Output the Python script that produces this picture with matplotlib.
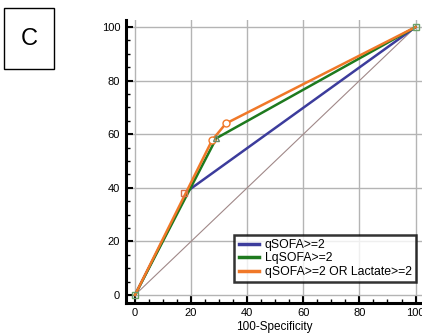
import matplotlib
matplotlib.use("Agg")
import matplotlib.pyplot as plt
from matplotlib.ticker import MultipleLocator
from matplotlib.patches import Rectangle

plt.rcParams["font.family"] = ["Liberation Sans", "DejaVu Sans"]

# ROC punktlari (100-Specificity, Sensitivity)
qsofa_x = [0, 19, 100]
qsofa_y = [0, 39, 100]
lqsofa_x = [0, 29, 100]
lqsofa_y = [0, 58.5, 100]
combo_x = [0, 27.5, 32.4, 100]
combo_y = [0, 57.8, 64, 100]
labels = ["qSOFA>=2", "LqSOFA>=2", "qSOFA>=2 OR Lactate>=2"]
ticks = [0, 20, 40, 60, 80, 100]

fig = plt.figure(figsize=(4.22, 3.35), dpi=100)
ax = fig.add_axes([0.298, 0.0964, 0.702, 0.8436])

# Diagonal referans cizgisi
ax.plot([0, 100], [0, 100], color="#a08888", lw=0.8, zorder=2)

ax.plot(qsofa_x, qsofa_y, color="#3c3c9c", lw=1.8, label=labels[0], zorder=3)
ax.plot(lqsofa_x, lqsofa_y, color="#1e7a1e", lw=1.8, label=labels[1], zorder=3)
ax.plot(combo_x, combo_y, color="#f07828", lw=1.8, label=labels[2], zorder=4)

# Isaretler
ax.plot([17.5], [38], marker="s", ms=4, mfc="none", mec="#d9704a", mew=1, ls="none", zorder=5)
ax.plot(combo_x[1:3], combo_y[1:3], marker="o", ms=5, mfc="white", mec="#f07828", mew=1, ls="none", zorder=5)
ax.plot([29], [58.5], marker="^", ms=4, mfc="none", mec="#6a8a6a", mew=1, ls="none", zorder=5)
ax.plot([0, 100], [0, 100], marker="s", ms=4, mfc="none", mec="#6aa06a", mew=1, ls="none", zorder=5)

ax.set_xlim(-3.3, 102.3)
ax.set_ylim(-2.9, 102.6)
ax.set_xticks(ticks)
ax.set_yticks(ticks)
ax.xaxis.set_minor_locator(MultipleLocator(5))
ax.yaxis.set_minor_locator(MultipleLocator(5))
ax.grid(True, which="major", color="#b4b4b4", lw=1, zorder=1)
ax.tick_params(which="major", direction="in", length=5, width=1.5, labelsize=8, pad=4)
ax.tick_params(which="minor", direction="in", length=3, width=1)

for s in ["top", "right"]:
    ax.spines[s].set_visible(False)
for s in ["left", "bottom"]:
    ax.spines[s].set_linewidth(2.2)

ax.set_xlabel("100-Specificity", fontsize=8.5, labelpad=2)

leg = ax.legend(loc="lower right", bbox_to_anchor=(0.98, 0.073), fontsize=8.8, frameon=True,
                fancybox=False, handlelength=1.7, borderpad=0.35, labelspacing=0.12,
                handletextpad=0.45, borderaxespad=0)
leg.get_frame().set_edgecolor("black")
leg.get_frame().set_linewidth(1.8)
for h in leg.get_lines():
    h.set_linewidth(2.5)

# Panel etiketi
fig.patches.append(Rectangle((4 / 422, 1 - 69 / 335), 50 / 422, 61 / 335, transform=fig.transFigure,
                             fill=False, edgecolor="black", lw=1))
fig.text(29 / 422, 1 - 39 / 335, "C", fontsize=17, ha="center", va="center")

fig.savefig("out.png", dpi=100)
